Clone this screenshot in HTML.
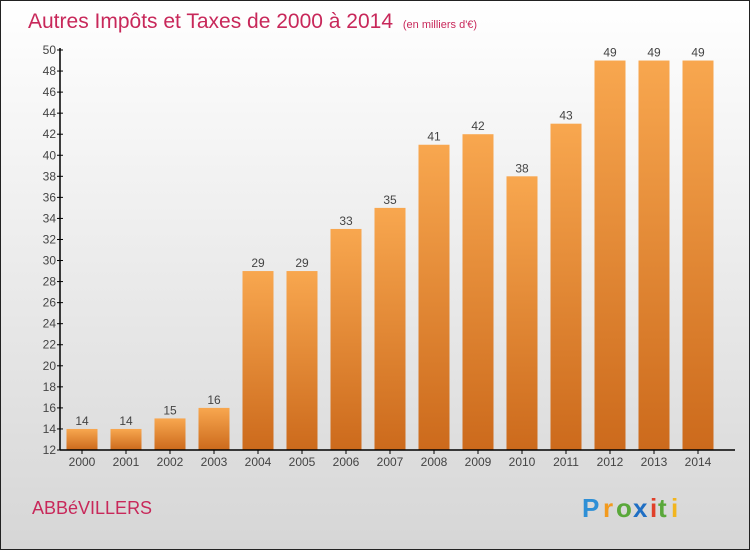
<!DOCTYPE html>
<html><head><meta charset="utf-8"><style>
html,body{margin:0;padding:0}
body{width:750px;height:550px;overflow:hidden;font-family:"Liberation Sans",sans-serif}
</style></head><body>
<svg width="750" height="550" xmlns="http://www.w3.org/2000/svg">
<defs>
<linearGradient id="bg" x1="0" y1="0" x2="0" y2="1"><stop offset="0" stop-color="#ffffff"/><stop offset="1" stop-color="#d6d6d6"/></linearGradient>
<linearGradient id="bar" x1="0" y1="0" x2="0" y2="1"><stop offset="0" stop-color="#f8a74f"/><stop offset="1" stop-color="#cc6a1c"/></linearGradient>
</defs>
<rect x="0.5" y="0.5" width="749" height="549" fill="url(#bg)" stroke="#222"/>
<text x="28" y="28" font-size="21" fill="#c8285a">Autres Impôts et Taxes de 2000 à 2014 <tspan font-size="11" dx="4">(en milliers d'€)</tspan></text>
<g id="plot"></g>
<text x="32" y="514" font-size="18" fill="#c8285a">ABBéVILLERS</text>
<g font-size="26" font-weight="bold">
<text x="582" y="517" fill="#2e8fd6">P</text><text x="603" y="517" fill="#f29a1e">r</text><text x="616" y="517" fill="#5aa83a">o</text><text x="633" y="517" fill="#1f6fc4">x</text><text x="650" y="517" fill="#e0402a">i</text><text x="658" y="517" fill="#5aa83a">t</text><text x="671" y="517" fill="#f2b51e">i</text>
</g>
</svg>
<script>
const categories=["2000","2001","2002","2003","2004","2005","2006","2007","2008","2009","2010","2011","2012","2013","2014"];
const values=[14,14,15,16,29,29,33,35,41,42,38,43,49,49,49];
const yTicks=[12,14,16,18,20,22,24,26,28,30,32,34,36,38,40,42,44,46,48,50];
const NS="http://www.w3.org/2000/svg";
const g=document.getElementById('plot');
const y=v=>450-(v-12)*400/38;
const x=i=>82+i*44;
function mk(t,a,txt){const e=document.createElementNS(NS,t);for(const k in a)e.setAttribute(k,a[k]);if(txt!==undefined)e.textContent=txt;g.appendChild(e);return e;}
values.forEach((v,i)=>{
 const r=mk('rect',{x:x(i)-15.5,y:y(v),width:31,height:450-y(v),fill:'url(#bar)'});
 
 
 const l=mk('text',{x:x(i),y:y(v)-4,'font-size':12,fill:'#444','text-anchor':'middle'},String(v));
 
 
 const c=mk('text',{x:x(i),y:466,'font-size':12,fill:'#444','text-anchor':'middle'},categories[i]);
 
 
 const tk=mk('line',{x1:x(i),x2:x(i),y1:450,y2:454,stroke:'#000'});
 
 
});
yTicks.forEach(t=>{
 const l=mk('line',{x1:57,x2:63,y1:y(t),y2:y(t),stroke:'#000'});
 
 
 const tx=mk('text',{x:56,y:y(t)+4,'font-size':12,fill:'#444','text-anchor':'end'},String(t));
 
 
});
const ya=mk('line',{x1:60,x2:60,y1:y(50)-2,y2:450,stroke:'#000','stroke-width':1.5});


const xa=mk('line',{x1:60,x2:735,y1:450,y2:450,stroke:'#000','stroke-width':1.5});


</script>
</body></html>
